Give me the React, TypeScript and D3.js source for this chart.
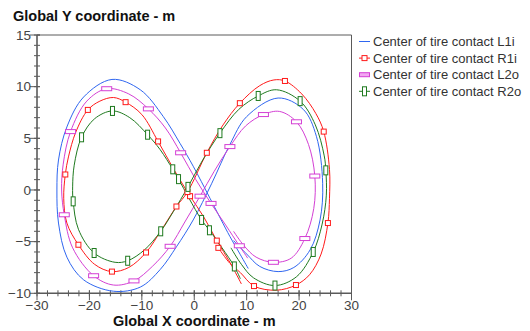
import React from "react";
import * as d3 from "d3";

type P = [number, number, number];

const seriesNames = [
  "Center of tire contact L1i",
  "Center of tire contact R1i",
  "Center of tire contact L2o",
  "Center of tire contact R2o",
];
const seriesColors = ["#2f66f0", "#ff1a1a", "#d43fd4", "#1f7a1f"];

// [x, y, marker]
const L1i: P[] = [
  [10.3, -7.6, 0], [8.5, -6.0, 0], [6.8, -4.5, 0], [3.0, -0.8, 0], [-0.2, 2.3, 0],
  [-2.7, 4.5, 0], [-5.9, 7.1, 0], [-10.3, 9.7, 0], [-15.7, 10.7, 0], [-21.1, 9.0, 0],
  [-24.3, 6.1, 0], [-25.9, 2.9, 0], [-26.2, 0, 0], [-25.9, -3.2, 0], [-24.3, -6.5, 0],
  [-21.1, -8.7, 0], [-15.4, -9.8, 0], [-10.3, -9.4, 0], [-6.5, -7.7, 0], [-3.4, -5.5, 0],
  [-0.2, -2.9, 0], [3.3, 0.6, 0], [6.8, 4.4, 0], [10.0, 7.1, 0], [16.0, 8.9, 0],
  [20.8, 7.8, 0], [23.3, 5.2, 0], [24.5, 0.65, 0], [24.0, -2.9, 0], [22.1, -5.8, 0],
  [19.0, -7.5, 0], [16.0, -7.9, 0], [12.5, -7.4, 0], [10.0, -6.2, 0], [7.5, -4.9, 0],
];

const R1i: P[] = [
  [9.0, -9.1, 0], [6.8, -7.0, 0], [4.3, -4.9, 1], [1.8, -2.6, 0], [-0.8, -0.6, 1],
  [-3.9, 2.0, 0], [-6.9, 4.7, 1], [-10.0, 7.3, 0], [-13.1, 8.5, 1], [-15.4, 8.95, 0],
  [-18.0, 8.6, 0], [-20.3, 7.75, 1], [-22.6, 5.6, 0], [-24.0, 3.2, 0], [-24.6, 1.5, 1],
  [-24.9, -0.8, 0], [-24.3, -3.2, 0], [-22.1, -5.3, 1], [-19.0, -7.2, 0], [-15.7, -7.9, 1],
  [-12.5, -7.5, 0], [-9.2, -6.05, 1], [-6.3, -3.9, 0], [-3.4, -1.6, 1], [-1.3, -0.2, 1],
  [2.4, 3.6, 1], [5.5, 6.3, 0], [8.7, 8.4, 1], [12.5, 10.1, 0], [15.2, 10.65, 0],
  [17.3, 10.55, 1], [20.5, 9.3, 0], [23.2, 7.4, 0], [24.7, 5.65, 1], [25.8, 2.0, 0],
  [25.8, -0.8, 0], [25.5, -3.2, 1], [24.2, -6.2, 0], [22.0, -8.2, 0], [19.4, -9.2, 1],
  [15.7, -9.7, 0], [11.4, -9.3, 1], [8.8, -8.0, 0], [6.8, -7.1, 0], [4.6, -5.6, 1],
];

const L2o: P[] = [
  [10.2, -6.6, 0], [8.6, -5.4, 1], [6.0, -3.4, 0], [3.2, -1.3, 1], [0.3, 1.0, 0],
  [-2.6, 3.6, 1], [-5.5, 6.0, 0], [-8.75, 7.85, 1], [-12.5, 9.3, 0], [-16.7, 9.8, 1],
  [-20.5, 8.6, 0], [-23.6, 5.65, 1], [-25.0, 2.5, 0], [-25.3, 0, 0], [-24.8, -2.4, 1],
  [-23.2, -5.6, 0], [-19.2, -8.3, 1], [-15.4, -9.2, 0], [-11.5, -8.8, 1], [-8.0, -7.4, 0],
  [-4.6, -5.45, 1], [-1.8, -3.1, 0], [1.1, -0.6, 1], [3.8, 1.8, 0], [6.8, 4.2, 1],
  [9.8, 6.2, 0], [13.2, 7.3, 1], [16.3, 7.6, 0], [19.5, 6.6, 1], [21.8, 4.4, 0],
  [23.0, 1.35, 1], [22.8, -1.8, 0], [21.1, -4.7, 1], [18.5, -6.6, 0], [15.1, -7.0, 1],
  [11.8, -6.5, 0], [9.5, -5.4, 0], [7.5, -4.0, 0],
];

const R2o: P[] = [
  [8.8, -8.6, 0], [7.65, -7.4, 1], [5.3, -5.6, 0], [2.9, -3.9, 1], [1.4, -2.9, 1],
  [-1.0, -0.8, 0], [-3.0, 1.05, 1], [-4.1, 2.0, 1], [-6.5, 3.9, 0], [-8.9, 5.35, 1],
  [-12.3, 7.0, 0], [-15.6, 7.65, 1], [-19.0, 6.9, 0], [-21.5, 5.1, 1], [-22.9, 2.4, 0],
  [-23.2, 0.3, 0], [-23.1, -1.1, 1], [-22.1, -3.8, 0], [-19.1, -6.1, 1], [-15.1, -7.0, 0],
  [-12.7, -6.85, 1], [-9.5, -5.8, 0], [-6.4, -4.0, 1], [-4.0, -2.1, 0], [-1.2, 0.3, 1],
  [1.5, 2.8, 0], [4.9, 5.5, 1], [8.5, 7.8, 0], [12.2, 9.1, 1], [15.7, 9.7, 0],
  [20.2, 8.6, 1], [23.1, 6.3, 0], [24.8, 3.3, 0], [25.1, 1.9, 1], [25.2, -0.5, 0],
  [24.4, -3.3, 0], [22.7, -6.0, 1], [19.5, -8.4, 0], [15.4, -9.25, 1], [11.3, -8.5, 0],
  [9.0, -7.2, 0], [7.0, -5.6, 0],
];

const seriesData = [L1i, R1i, L2o, R2o];
// marker size [w, h] per series (0 = no marker)
const markerW = [0, 5, 10, 4];
const markerH = [0, 5, 4, 9];

const xTicks = [-30, -20, -10, 0, 10, 20, 30];
const yTicks = [-10, -5, 0, 5, 10, 15];
const xTitle = "Global X coordinate - m";
const yTitle = "Global Y coordinate - m";

const fmt = (v: number) => (v < 0 ? "\u2212" + Math.abs(v) : String(v));

export default function App() {
  const x = d3.scaleLinear().domain([-30, 30]).range([37, 351.5]);
  const y = d3.scaleLinear().domain([-10, 15]).range([293.3, 35]);
  const line = d3
    .line<P>()
    .x((d) => x(d[0]))
    .y((d) => y(d[1]))
    .curve(d3.curveCatmullRom.alpha(0.5));

  const xMinor = d3.range(-30, 30.001, 2);
  const yMinor = d3.range(-10, 15.001, 1);
  const axisColor = "#5a5a5a";
  const font = "Liberation Sans, Arial, sans-serif";

  return (
    <svg
      width={530}
      height={331}
      style={{ position: "absolute", left: 0, top: 0, background: "#fff" }}
      fontFamily={font}
    >
      <rect x={0} y={0} width={530} height={331} fill="#fff" />
      {/* frame */}
      <line x1={x(-30)} x2={x(30)} y1={y(15)} y2={y(15)} stroke={axisColor} strokeWidth={1} />
      <line x1={x(30)} x2={x(30)} y1={y(15)} y2={y(-10)} stroke={axisColor} strokeWidth={1} />
      <line x1={x(-30)} x2={x(-30)} y1={y(15)} y2={y(-10)} stroke={axisColor} strokeWidth={1.6} />
      <line x1={x(-30)} x2={x(30)} y1={y(-10)} y2={y(-10)} stroke={axisColor} strokeWidth={1.6} />
      {/* y ticks */}
      {yMinor.map((v) => (
        <line key={"ym" + v} x1={x(-30) - 3} x2={x(-30) + 3} y1={y(v)} y2={y(v)} stroke={axisColor} />
      ))}
      {yTicks.map((v) => (
        <g key={"yt" + v}>
          <line x1={x(-30) - 7} x2={x(-30) + 3} y1={y(v)} y2={y(v)} stroke={axisColor} />
          <text x={x(-30) - 6} y={y(v)} dy="0.35em" textAnchor="end" fontSize={13.5} fill="#444">
            {fmt(v)}
          </text>
        </g>
      ))}
      {/* x ticks */}
      {xMinor.map((v) => (
        <line key={"xm" + v} x1={x(v)} x2={x(v)} y1={y(-10) - 3} y2={y(-10) + 3} stroke={axisColor} />
      ))}
      {xTicks.map((v) => (
        <g key={"xt" + v}>
          <line x1={x(v)} x2={x(v)} y1={y(-10) - 3} y2={y(-10) + 7} stroke={axisColor} />
          <text x={x(v)} y={y(-10) + 17} textAnchor="middle" fontSize={13.5} fill="#444">
            {fmt(v)}
          </text>
        </g>
      ))}
      {/* titles */}
      <text x={13} y={21} fontSize={14.5} fontWeight="bold" fill="#111">
        {yTitle}
      </text>
      <text x={x(0)} y={326} textAnchor="middle" fontSize={14.5} fontWeight="bold" fill="#111">
        {xTitle}
      </text>
      {/* series */}
      {seriesData.map((s, i) => (
        <path key={"l" + i} d={line(s) || ""} fill="none" stroke={seriesColors[i]} strokeWidth={1} />
      ))}
      {seriesData.map((s, i) =>
        markerW[i] > 0
          ? s
              .filter((p) => p[2] === 1)
              .map((p, j) => (
                <rect
                  key={"m" + i + "-" + j}
                  x={x(p[0]) - markerW[i] / 2}
                  y={y(p[1]) - markerH[i] / 2}
                  width={markerW[i]}
                  height={markerH[i]}
                  fill="#fff"
                  stroke={seriesColors[i]}
                  strokeWidth={1}
                />
              ))
          : null
      )}
      {/* legend */}
      {seriesNames.map((n, i) => {
        const ly = 41.5 + i * 16.6;
        return (
          <g key={"lg" + i}>
            <line x1={359} x2={370} y1={ly} y2={ly} stroke={seriesColors[i]} strokeWidth={1} />
            {markerW[i] > 0 && (
              <rect
                x={364.5 - markerW[i] / 2}
                y={ly - markerH[i] / 2}
                width={markerW[i]}
                height={markerH[i]}
                fill={i === 2 ? "#f2a8f2" : "#fff"}
                stroke={seriesColors[i]}
              />
            )}
            <text x={373} y={ly} dy="0.35em" fontSize={13} fill="#333">
              {n}
            </text>
          </g>
        );
      })}
    </svg>
  );
}
